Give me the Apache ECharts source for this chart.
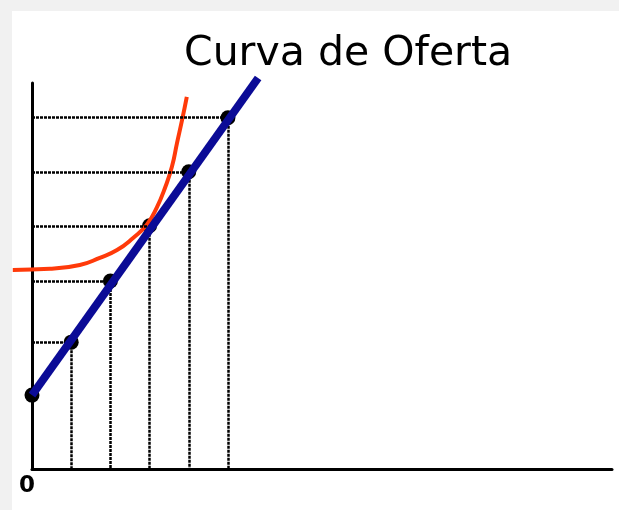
<!DOCTYPE html>
<html><head><meta charset="utf-8">
<script src="https://cdn.jsdelivr.net/npm/echarts@6/dist/echarts.min.js"></script>
<style>html,body{margin:0;padding:0;background:#fff}#c{width:619px;height:510px}</style>
</head><body><div id="c"></div>
<script>
const chartTitle = 'Curva de Oferta';
const pointX = [0, 1, 2, 3, 4, 5];
const pointY = [1.34, 2.30, 3.41, 4.41, 5.39, 6.37];
const supplyX = [0, 5.77];
const supplyY = [1.34, 7.09];
const costX = [-0.49, 0.46, 1.22, 1.73, 2.17, 2.58, 2.93, 3.19, 3.40, 3.57, 3.70, 3.83, 3.95];
const costY = [3.61, 3.63, 3.70, 3.83, 3.97, 4.19, 4.43, 4.75, 5.11, 5.48, 5.91, 6.33, 6.75];
const xTickLabels = ['0'];

const pts = pointX.map((x, i) => [x, pointY[i]]);
const guides = [];
pts.forEach(([x, y]) => {
  if (x > 0) {
    guides.push([{ coord: [0, y] }, { coord: [x, y] }]);
    guides.push([{ coord: [x, y] }, { coord: [x, 0] }]);
  }
});

const hiddenAxis = { axisLine: { show: false }, axisTick: { show: false }, splitLine: { show: false }, axisLabel: { show: false } };

const chart = echarts.init(document.getElementById('c'), null, { renderer: 'canvas' });
chart.setOption({
  backgroundColor: '#f1f1f1',
  animation: false,
  graphic: [
    { type: 'rect', z: -10, shape: { x: 12, y: 11, width: 607, height: 499 }, style: { fill: '#ffffff' } }
  ],
  title: {
    text: chartTitle, left: 179, top: 29,
    textStyle: { fontFamily: 'DejaVu Sans', fontSize: 41, fontWeight: 'normal', color: '#000' }
  },
  grid: [
    { left: 32, top: 83, right: 7, bottom: 41 },
    { left: 12.4, top: 83, right: 7, bottom: 41 }
  ],
  xAxis: [{
    type: 'value', min: 0, max: 14.8, interval: 1, gridIndex: 0,
    axisLine: { lineStyle: { color: '#000', width: 3 } },
    axisTick: { show: false }, splitLine: { show: false },
    axisLabel: {
      formatter: v => (v === 0 ? xTickLabels[0] : ''),
      fontFamily: 'DejaVu Sans', fontWeight: 'bold', fontSize: 23, color: '#000',
      margin: 6, padding: [0, 10, 0, 0], showMaxLabel: false
    }
  }, Object.assign({ type: 'value', min: -0.5, max: 14.8, gridIndex: 1 }, hiddenAxis)],
  yAxis: [{
    type: 'value', min: 0, max: 7, gridIndex: 0,
    axisLine: { show: true, lineStyle: { color: '#000', width: 3 } },
    axisTick: { show: false }, splitLine: { show: false }, axisLabel: { show: false }
  }, Object.assign({ type: 'value', min: 0, max: 7, gridIndex: 1 }, hiddenAxis)],
  series: [
    {
      type: 'scatter', data: pts, symbolSize: 15, z: 3,
      itemStyle: { color: '#000', opacity: 1 },
      markLine: {
        silent: true, symbol: 'none', label: { show: false },
        lineStyle: { color: '#000', width: 2.5, type: [3, 1] },
        data: guides
      }
    },
    {
      type: 'line', xAxisIndex: 1, yAxisIndex: 1,
      data: costX.map((x, i) => [x, costY[i]]), smooth: 0.5, clip: false,
      showSymbol: false, z: 4, lineStyle: { color: '#ff3a0a', width: 4 }
    },
    {
      type: 'line', data: supplyX.map((x, i) => [x, supplyY[i]]), clip: false,
      showSymbol: false, z: 5, lineStyle: { color: '#0b0b96', width: 8 }
    }
  ]
});
</script></body></html>
